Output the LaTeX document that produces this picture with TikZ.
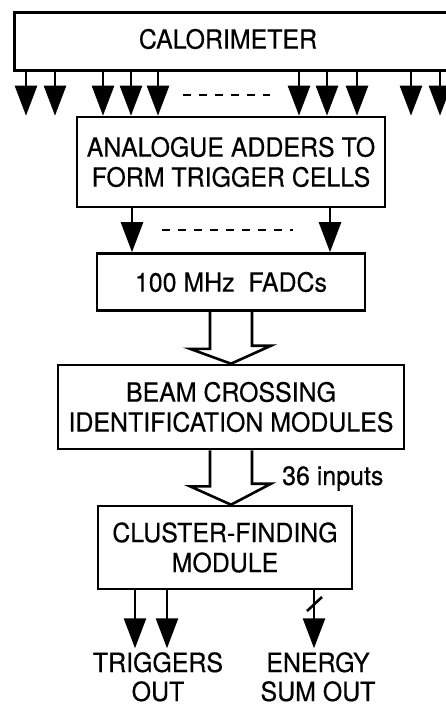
\documentclass[tikz,border=0pt]{standalone}
\usepackage{fontspec}
\setmainfont{TeX Gyre Heros}[FakeStretch=0.94, FakeBold=0.4]
\usepackage{tikz}
\usetikzlibrary{arrows.meta}
\tikzstyle{arrow} = [-{Triangle[length=30pt,width=22pt]}, line width=2.6pt]
\tikzstyle{box} = [draw, line width=2.6pt, align=center, inner sep=0pt]
\tikzstyle{hollow} = [line width=2.6pt, line join=miter]
\tikzstyle{dashline} = [line width=2pt, dash pattern=on 8pt off 8pt]

\begin{document}
\begin{tikzpicture}[x=1pt, y=1pt, node distance=120pt, every node/.style={font=\fontsize{26.5}{30}\selectfont}]
		\useasboundingbox (0,0) rectangle (445,-708);

		\node (calo) [box, minimum width=457pt, minimum height=58pt, anchor=north west] at (13,-11) {};
		\node (calotext) at (228,-39) {CALORIMETER};
		\node (adders) [box, below of=calotext, yshift=-3pt, xshift=3pt, minimum width=308pt, minimum height=90pt] {ANALOGUE ADDERS TO\\FORM TRIGGER CELLS};
		\node (fadc) [box, below of=adders, minimum width=268pt, minimum height=57pt] {100 MHz\ \ FADCs};
		\node (beam) [box, below of=fadc, yshift=-5pt, minimum width=346pt, minimum height=84pt] {BEAM CROSSING\\IDENTIFICATION MODULES};
		\node (cluster) [box, below of=beam, yshift=-20.5pt, xshift=-6pt, minimum width=254pt, minimum height=83pt] {CLUSTER-FINDING\\MODULE};
		\node (inputs) [anchor=base west, inner sep=0pt] at (282,-485) {36 inputs};
		\node (trig) [align=center, anchor=north, inner sep=0pt, font=\fontsize{26.5}{29}\selectfont] at (158,-652) {TRIGGERS\\OUT};
		\node (energy) [align=center, anchor=north, inner sep=0pt, font=\fontsize{26.5}{29}\selectfont] at (318,-652) {ENERGY\\SUM OUT};

		\foreach \x in {26,55,103,131,158,299,327,357,411,440}
			\draw [arrow] (\x,0 |- calo.south) -- (\x,0 |- adders.north);
		\draw [dashline] (183,-95) -- (270,-95);

		\foreach \x in {132,330}
			\draw [arrow] (\x,0 |- adders.south) -- (\x,0 |- fadc.north);
		\draw [dashline] (162,-230) -- (293,-230);

		\draw [hollow] ([xshift=-21pt]fadc.south) -- ++(0,-37) -- ++(-20,0) -- (beam.north) -- ++(40,18) -- ++(-19,0) -- ([xshift=21pt]fadc.south);
		\draw [hollow] ([xshift=-21pt]beam.south) -- ++(0,-36) -- ++(-20,0) -- (beam.south |- cluster.north) -- ++(40,21) -- ++(-19,0) -- ([xshift=21pt]beam.south);

		\foreach \x in {135,167}
			\draw [arrow] (\x,0 |- cluster.south) -- ++(0,-58);
		\draw [arrow] (314,0 |- cluster.south) -- ++(0,-58);
		\draw [line width=2.6pt] (307,-611) -- (322,-597);
	\end{tikzpicture}
\end{document}
